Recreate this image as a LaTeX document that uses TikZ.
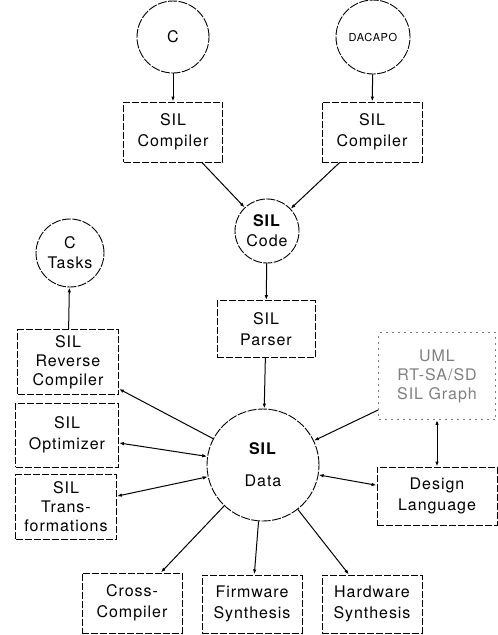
\documentclass[tikz,border=0pt]{standalone}
\usepackage{fontspec}
\setmainfont{TeX Gyre Heros}[LetterSpace=6]
\usetikzlibrary{arrows.meta}

\begin{document}
\begin{tikzpicture}[x=1pt, y=-1pt,
    box/.style={draw, line width=0.9pt, dash pattern=on 7pt off 2pt, minimum width=100pt, minimum height=60pt, align=center, inner sep=1pt, font=\fontsize{16}{21}\selectfont},
    threeline/.style={font=\fontsize{16}{19}\selectfont},
    ring/.style={draw, circle, line width=0.9pt, dash pattern=on 9pt off 1.5pt, inner sep=0pt, align=center, font=\fontsize{16}{20}\selectfont},
    faintbox/.style={box, draw=black!50, dash pattern=on 2pt off 4pt, text=black!50, threeline},
    flow/.style={line width=1pt, -{Latex[length=5pt,width=3.5pt]}},
    twoway/.style={line width=1pt, {Latex[length=5pt,width=3.5pt]}-{Latex[length=5pt,width=3.5pt]}}]
    \useasboundingbox (0,0) rectangle (498,635);

    \node [ring, minimum size=72pt] (c) at (173,37) {C};
    \node [ring, minimum size=74pt, font=\fontsize{11}{12}\selectfont] (dacapo) at (373,37) {DACAPO};
    \node [box, minimum width=99pt] (silcomp) at (173,132) {SIL\\Compiler};
    \node [box] (dacomp) at (372,132) {SIL\\Compiler};
    \node [ring, minimum size=64pt] (code) at (267,231) {\textbf{SIL}\\Code};
    \node [box, minimum width=98pt, minimum height=57pt] (parser) at (266,329) {SIL\\Parser};
    \node [ring, minimum size=112pt] (data) at (263,465) {\textbf{SIL}\\[12pt]Data};

    \node [ring, minimum size=68pt] (ctasks) at (70,253) {C\\Tasks};
    \node [box, threeline, minimum width=101pt, minimum height=65pt] (revcomp) at (68,362) {SIL\\Reverse\\Compiler};
    \node [box, minimum width=103pt, minimum height=64pt] (optim) at (67,435) {SIL\\Optimizer};
    \node [box, threeline, minimum width=101pt, minimum height=65pt] (trans) at (66,507) {SIL\\Trans-\\formations};

    \node [faintbox, minimum width=117pt, minimum height=87pt] (graph) at (437,376) {UML\\RT-SA/SD\\SIL Graph};
    \node [box, minimum width=120pt, minimum height=58pt] (design) at (437,496) {Design\\Language};

    \node [box] (cross) at (132,603) {Cross-\\Compiler};
    \node [box, minimum height=58pt] (firm) at (252,604) {Firmware\\Synthesis};
    \node [box, minimum height=58pt] (hard) at (372,604) {Hardware\\Synthesis};

    \draw [flow] (c) -- (silcomp);
    \draw [flow] (dacapo) -- (dacomp);
    \draw [flow] (silcomp) -- (code);
    \draw [flow] (dacomp) -- (code);
    \draw [flow] (code) -- (parser);
    \draw [flow] (parser) -- (data);
    \draw [flow] (data) -- (revcomp);
    \draw [flow] (revcomp) -- (ctasks);
    \draw [twoway] (optim) -- (data);
    \draw [twoway] (trans) -- (data);
    \draw [flow] (graph.210) -- (data);
    \draw [twoway] (graph) -- (design);
    \draw [twoway] (data) -- (design);
    \draw [flow] (data) -- (cross);
    \draw [flow] (data) -- (firm);
    \draw [flow] (data) -- (hard);
\end{tikzpicture}
\end{document}
